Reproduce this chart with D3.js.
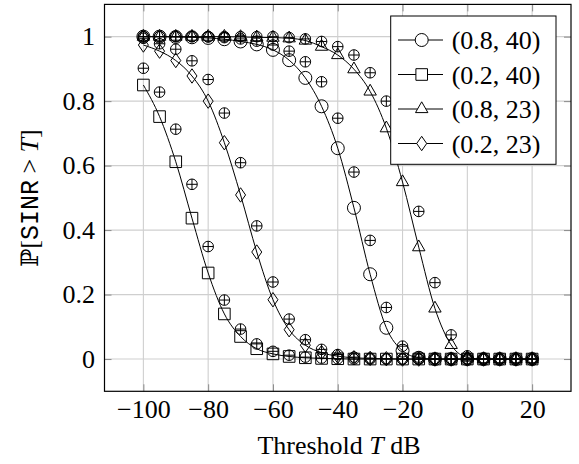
<!DOCTYPE html>
<html>
<head>
<meta charset="utf-8">
<script src="https://cdn.jsdelivr.net/npm/d3@7"></script>
<style>
  html, body { margin: 0; padding: 0; background: #fff; }
  svg { display: block; }
</style>
</head>
<body>
<svg id="chart" width="579" height="464"></svg>
<script>
// ---- data ----
const thresholds = [-100,-95,-90,-85,-80,-75,-70,-65,-60,-55,-50,-45,-40,-35,-30,-25,-20,-15,-10,-5,0,5,10,15,20];
const seriesNames = ["(0.8, 40)", "(0.2, 40)", "(0.8, 23)", "(0.2, 23)"];
// analytic curves
const ana_08_40 = [1.0,1.0,0.999,0.998,0.996,0.992,0.985,0.976,0.959,0.927,0.872,0.784,0.654,0.469,0.263,0.097,0.026,0.004,0,0,0,0,0,0,0];
const ana_02_40 = [0.85,0.752,0.612,0.437,0.267,0.14,0.07,0.032,0.016,0.008,0.004,0.002,0.001,0,0,0,0,0,0,0,0,0,0,0,0];
const ana_08_23 = [1.0,1.0,1.0,1.0,1.0,1.0,0.999,0.998,0.997,0.995,0.988,0.969,0.943,0.899,0.83,0.716,0.549,0.347,0.157,0.044,0.005,0,0,0,0];
const ana_02_23 = [0.974,0.955,0.926,0.878,0.80,0.671,0.509,0.332,0.184,0.091,0.043,0.02,0.009,0.004,0.002,0.001,0,0,0,0,0,0,0,0,0];
// simulation points (circle-plus markers)
const sim_08_40 = [1.0,1.0,1.0,1.0,0.999,0.997,0.993,0.986,0.974,0.955,0.922,0.86,0.747,0.58,0.368,0.16,0.04,0.006,0.001,0,0,0,0,0,0];
const sim_02_40 = [0.902,0.828,0.713,0.542,0.349,0.183,0.093,0.047,0.024,0.012,0.006,0.003,0.001,0,0,0,0,0,0,0,0,0,0,0,0];
const sim_08_23 = [1.0,1.0,1.0,1.0,1.0,1.0,1.0,1.0,1.0,0.997,0.993,0.985,0.969,0.943,0.888,0.80,0.66,0.458,0.237,0.075,0.01,0.001,0,0,0];
const sim_02_23 = [0.995,0.978,0.961,0.925,0.867,0.763,0.609,0.413,0.239,0.124,0.06,0.03,0.014,0.006,0.003,0.001,0,0,0,0,0,0,0,0,0];
const xTicks = [-100,-80,-60,-40,-20,0,20];
const yTicks = [0,0.2,0.4,0.6,0.8,1];

// ---- layout ----
const SERIF = "'Liberation Serif', 'Times New Roman', serif";
const svg = d3.select("#chart");
const L = 104.5, R = 571, T = 4.4, B = 391.3;
const x = d3.scaleLinear().domain([-112, 32]).range([L, R]);
const y = d3.scaleLinear().domain([-0.1, 1.1]).range([B, T]);
const FS = 26;

// grid
const grid = svg.append("g").attr("stroke", "#cfcfcf").attr("stroke-width", 1.1);
xTicks.forEach(v => grid.append("line").attr("x1", x(v)).attr("x2", x(v)).attr("y1", T).attr("y2", B));
yTicks.forEach(v => grid.append("line").attr("x1", L).attr("x2", R).attr("y1", y(v)).attr("y2", y(v)));

// axes
const fmt = v => (v < 0 ? "\u2212" + Math.abs(v) : String(v));
const styleAxis = g => {
  g.attr("font-family", SERIF).attr("font-size", FS);
  g.select(".domain").remove();
  g.selectAll(".tick line").attr("stroke", "#8a8a8a").attr("stroke-width", 1);
  g.selectAll(".tick text").attr("fill", "#000");
};
svg.append("g").attr("transform", `translate(0,${B})`)
  .call(d3.axisBottom(x).tickValues(xTicks).tickFormat(fmt).tickSize(-7).tickPadding(8.2)).call(styleAxis);
svg.append("g").attr("transform", `translate(0,${T})`)
  .call(d3.axisTop(x).tickValues(xTicks).tickFormat("").tickSize(-7)).call(styleAxis);
svg.append("g").attr("transform", `translate(${L},0)`)
  .call(d3.axisLeft(y).tickValues(yTicks).tickFormat(d => d3.format("")(d)).tickSize(-7).tickPadding(9.5)).call(styleAxis);
svg.append("g").attr("transform", `translate(${R},0)`)
  .call(d3.axisRight(y).tickValues(yTicks).tickFormat("").tickSize(-7)).call(styleAxis);

// marker shapes
const shapes = {
  circle: "M6.5,0A6.5,6.5 0 1,1 -6.5,0A6.5,6.5 0 1,1 6.5,0Z",
  square: "M-5.8,-5.8H5.8V5.8H-5.8Z",
  triangle: "M0,-7.2L6.2,3.6L-6.2,3.6Z",
  diamond: "M0,-7.2L5,0L0,7.2L-5,0Z",
  oplus: "M5.3,0A5.3,5.3 0 1,1 -5.3,0A5.3,5.3 0 1,1 5.3,0Z M-5.3,0H5.3 M0,-5.3V5.3"
};

const series = [
  { name: seriesNames[0], ana: ana_08_40, sim: sim_08_40, mark: "circle" },
  { name: seriesNames[1], ana: ana_02_40, sim: sim_02_40, mark: "square" },
  { name: seriesNames[2], ana: ana_08_23, sim: sim_08_23, mark: "triangle" },
  { name: seriesNames[3], ana: ana_02_23, sim: sim_02_23, mark: "diamond" }
];

const line = d3.line().x(d => x(d[0])).y(d => y(d[1])).curve(d3.curveMonotoneX);
const plot = svg.append("g");
series.forEach(s => {
  const pts = thresholds.map((t, i) => [t, s.ana[i]]);
  plot.append("path").attr("d", line(pts)).attr("fill", "none").attr("stroke", "#000").attr("stroke-width", 1);
  plot.append("g").selectAll("path").data(pts).join("path")
    .attr("transform", d => `translate(${x(d[0])},${y(d[1])})`)
    .attr("d", shapes[s.mark]).attr("fill", "none").attr("stroke", "#000").attr("stroke-width", 1);
  const sp = thresholds.map((t, i) => [t, s.sim[i]]);
  plot.append("g").selectAll("path").data(sp).join("path")
    .attr("transform", d => `translate(${x(d[0])},${y(d[1])})`)
    .attr("d", shapes.oplus).attr("fill", "none").attr("stroke", "#000").attr("stroke-width", 1);
});

// frame
svg.append("rect").attr("x", L).attr("y", T).attr("width", R - L).attr("height", B - T)
  .attr("fill", "none").attr("stroke", "#000").attr("stroke-width", 1.2);

// legend
const lg = svg.append("g");
lg.append("rect").attr("x", 390.7).attr("y", 16).attr("width", 165.3).attr("height", 148.3)
  .attr("fill", "#fff").attr("stroke", "#000").attr("stroke-width", 1);
const legY = [40, 74.5, 109, 143.5];
series.forEach((s, i) => {
  const yy = legY[i];
  lg.append("line").attr("x1", 398).attr("x2", 443).attr("y1", yy).attr("y2", yy).attr("stroke", "#000").attr("stroke-width", 1);
  lg.append("path").attr("transform", `translate(421.7,${yy})`).attr("d", shapes[s.mark])
    .attr("fill", "#fff").attr("stroke", "#000").attr("stroke-width", 1);
  lg.append("text").attr("x", 451.7).attr("y", yy + 9).attr("font-family", SERIF).attr("font-size", FS).text(s.name);
});

// axis labels
const xl = svg.append("text").attr("x", 339).attr("y", 454).attr("text-anchor", "middle")
  .attr("font-family", SERIF).attr("font-size", FS);
xl.append("tspan").text("Threshold ");
xl.append("tspan").attr("font-style", "italic").text("T");
xl.append("tspan").text(" dB");

const yl = svg.append("text").attr("transform", "translate(38,198) rotate(-90)").attr("text-anchor", "middle")
  .attr("font-family", SERIF).attr("font-size", FS);
yl.append("tspan").attr("font-family", "'DejaVu Serif', serif").attr("font-size", 24).text("\u2119");
yl.append("tspan").text("[");
yl.append("tspan").attr("font-family", "'Liberation Mono', monospace").attr("font-size", 25).text("SINR");
yl.append("tspan").text(" > ");
yl.append("tspan").attr("font-style", "italic").text("T");
yl.append("tspan").text("]");
</script>
</body>
</html>
